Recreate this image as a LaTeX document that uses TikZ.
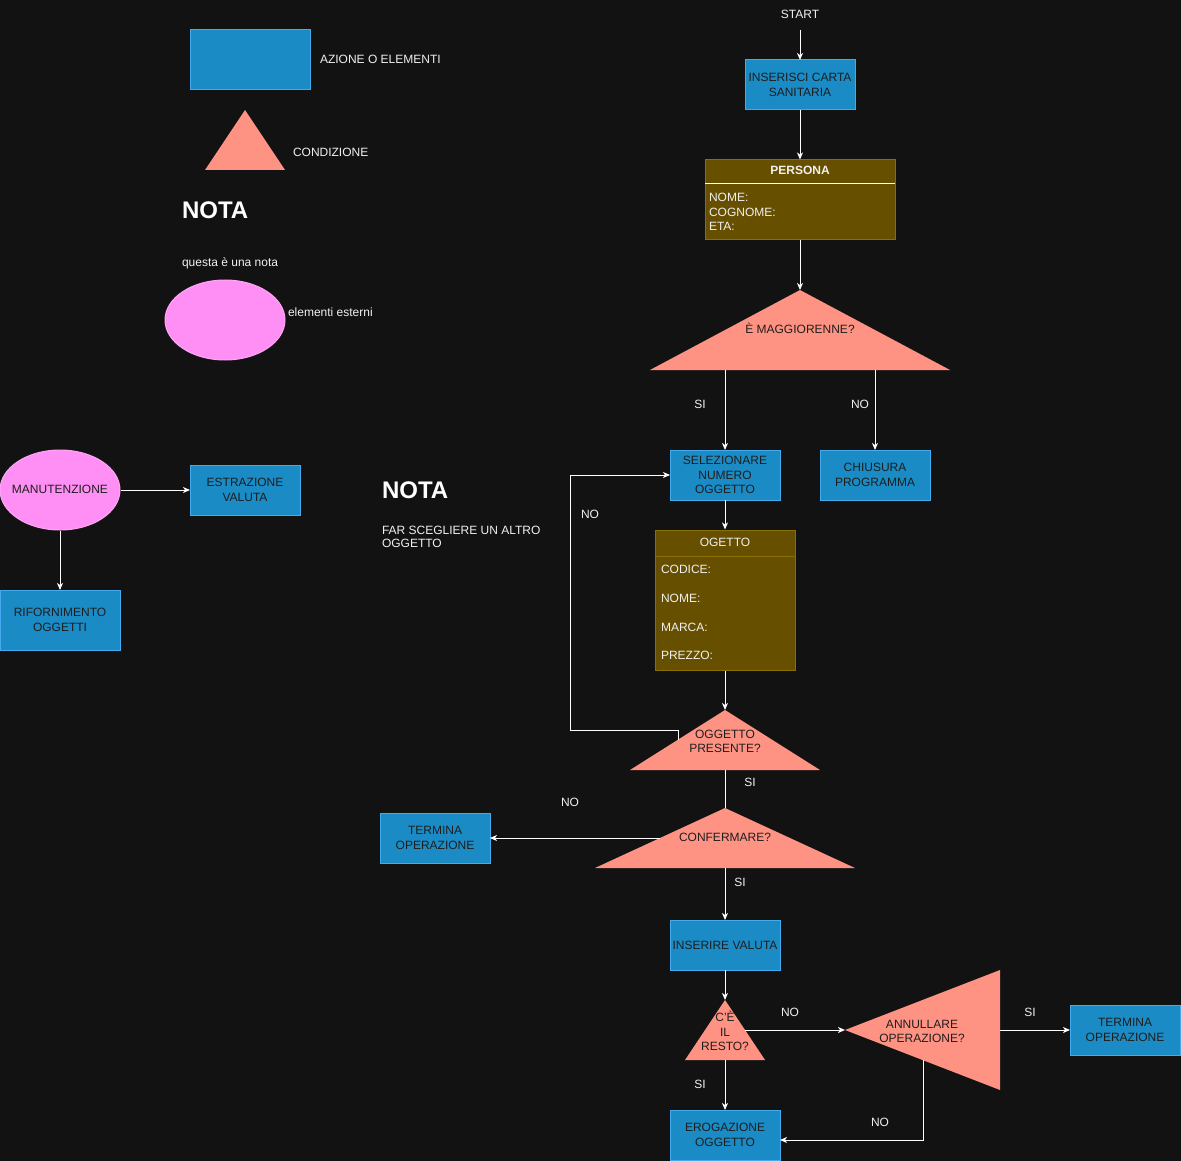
\documentclass[tikz,border=0pt]{standalone}
\usepackage{fontspec}
\setmainfont{Liberation Sans}
\usetikzlibrary{arrows.meta,shapes.geometric}

\definecolor{bgdark}{HTML}{121212}
\definecolor{actfill}{HTML}{1A8BC5}
\definecolor{actedge}{HTML}{45AAEE}
\definecolor{condfill}{HTML}{FF9383}
\definecolor{recfill}{HTML}{665000}
\definecolor{recedge}{HTML}{8A7000}
\definecolor{extfill}{HTML}{FF8FF5}
\definecolor{darktxt}{HTML}{1E1E1E}
\definecolor{lighttxt}{HTML}{F0F0F0}

\tikzset{
  txt/.style={font=\fontsize{12}{14.5}\selectfont, inner sep=0pt, outer sep=0pt},
  act/.style={txt, rectangle, draw=actedge, fill=actfill, text=darktxt, line width=1pt,
    minimum width=110pt, minimum height=50pt, align=center},
  extnode/.style={ellipse, draw=extfill!80!white, fill=extfill, line width=1pt, inner sep=0pt,
    minimum width=120pt, minimum height=80pt},
  recbox/.style={rectangle, draw=recedge, fill=recfill, line width=1pt, inner sep=0pt},
  condshape/.style={fill=condfill},
  condtxt/.style={txt, text=darktxt, align=center, yshift=-1.2pt},
  wlbl/.style={txt, text=lighttxt, yshift=-1.2pt},
  reclbl/.style={txt, text=lighttxt, anchor=mid west, yshift=-1.2pt},
  bignote/.style={txt, text=white, font=\fontsize{24}{28}\selectfont\bfseries, anchor=mid west, yshift=-4.5pt},
  arr/.style={draw=white, line width=1pt, -{Stealth[length=7pt,width=6pt,inset=2pt]}},
  plainline/.style={draw=white, line width=1pt}
}

\begin{document}
\begin{tikzpicture}[x=1pt,y=-1pt]
  % canvas
  \fill[bgdark] (0,0) rectangle (1181,1161);
  \useasboundingbox (0,0) rectangle (1181,1161);

  % ---------- legend ----------
  \node[act, minimum width=120pt, minimum height=60pt] (legact) at (250,60) {};
  \node[wlbl, anchor=mid west] (legacttxt) at (320,60) {AZIONE O ELEMENTI};
  \coordinate (legtop) at (245,110);
  \coordinate (legleft) at (205,170);
  \coordinate (legright) at (285,170);
  \fill[condshape] (legtop) -- (legright) -- (legleft) -- cycle;
  \node[wlbl, anchor=mid west] (legcond) at (293,153) {CONDIZIONE};
  \node[bignote] (legnota) at (182,211) {NOTA};
  \node[wlbl, anchor=mid west] (legnotatxt) at (182,263) {questa è una nota};
  \node[extnode] (legext) at (225,320) {};
  \node[wlbl, anchor=mid west] (legexttxt) at (288,313) {elementi esterni};

  % ---------- maintenance ----------
  \node[extnode] (manut) at (60,490) {};
  \node[txt, text=darktxt, anchor=mid, yshift=-1.2pt] (manuttxt) at (manut.center) {MANUTENZIONE};
  \node[act] (estraz) at (245,490) {ESTRAZIONE\\VALUTA};
  \node[act, minimum width=120pt, minimum height=60pt] (rifor) at (60,620) {RIFORNIMENTO\\OGGETTI};
  \draw[arr] (manut.east) -- (estraz.west);
  \draw[arr] (manut.south) -- (rifor.north);

  \node[bignote] (nota2) at (382,491) {NOTA};
  \node[wlbl, anchor=north west, align=left, font=\fontsize{12}{13.7}\selectfont] (nota2txt) at (382,524.5) {FAR SCEGLIERE UN ALTRO\\OGGETTO};

  % ---------- main flow ----------
  \node[wlbl, anchor=mid] (start) at (800,15) {START};
  \coordinate (startend) at (800,30);
  \node[act] (carta) at (800,85) {INSERISCI CARTA\\SANITARIA};
  \draw[arr] (startend) -- (carta.north);

  % person record
  \node[recbox, minimum width=190pt, minimum height=80pt] (persona) at (800,200) {};
  \draw[white, line width=1pt] (705,184) -- (895,184);
  \node[txt, text=lighttxt, font=\fontsize{12}{14.5}\selectfont\bfseries, anchor=mid, yshift=-1.2pt] (personahead) at (800,171) {PERSONA};
  \node[reclbl] (pnome) at (709,198) {NOME:};
  \node[reclbl] (pcognome) at (709,212.5) {COGNOME:};
  \node[reclbl] (peta) at (709,227) {ETA:};
  \draw[arr] (carta.south) -- (persona.north);

  % adult check
  \coordinate (maggtop) at (800,290);
  \coordinate (maggleft) at (650,370);
  \coordinate (maggright) at (950,370);
  \fill[condshape] (maggtop) -- (maggright) -- (maggleft) -- cycle;
  \node[condtxt, anchor=mid] (maggtxt) at (800,330) {È MAGGIORENNE?};
  \draw[arr] (persona.south) -- (maggtop);
  \coordinate (maggsi) at (725,370);
  \coordinate (maggno) at (875,370);

  \node[act] (selez) at (725,475) {SELEZIONARE\\NUMERO\\OGGETTO};
  \node[act] (chiusura) at (875,475) {CHIUSURA\\PROGRAMMA};
  \draw[arr] (maggsi) -- (selez.north);
  \draw[arr] (maggno) -- (chiusura.north);
  \node[wlbl, anchor=mid] (lsi1) at (700,405) {SI};
  \node[wlbl, anchor=mid] (lno1) at (860,405) {NO};

  % object record
  \node[recbox, minimum width=140pt, minimum height=140pt] (ogetto) at (725,600) {};
  \draw[recedge, line width=1pt] (655,556.5) -- (795,556.5);
  \node[txt, text=lighttxt, anchor=mid, yshift=-1.2pt] (ogettohead) at (725,543) {OGETTO};
  \node[reclbl] (ocodice) at (661,570) {CODICE:};
  \node[reclbl] (onome) at (661,599) {NOME:};
  \node[reclbl] (omarca) at (661,628) {MARCA:};
  \node[reclbl] (oprezzo) at (661,656) {PREZZO:};
  \draw[arr] (selez.south) -- (ogetto.north);

  % object available?
  \coordinate (prestop) at (725,710);
  \coordinate (presleft) at (630,770);
  \coordinate (presright) at (820,770);
  \fill[condshape] (prestop) -- (presright) -- (presleft) -- cycle;
  \node[condtxt, anchor=center] (prestxt) at (725,740) {OGGETTO\\PRESENTE?};
  \draw[arr] (ogetto.south) -- (prestop);
  \coordinate (presno) at (678,740);
  \draw[arr] (presno) -- (678,730) -- (570.5,730) |- (selez.west);
  \node[wlbl, anchor=mid] (lno2) at (590,515) {NO};
  \coordinate (pressi) at (725,770);

  % confirm?
  \coordinate (conftop) at (725,808);
  \coordinate (confleft) at (595,868);
  \coordinate (confright) at (855,868);
  \fill[condshape] (conftop) -- (confright) -- (confleft) -- cycle;
  \node[condtxt, anchor=mid] (conftxt) at (725,838) {CONFERMARE?};
  \draw[plainline] (pressi) -- (conftop);
  \node[wlbl, anchor=mid] (lsi2) at (750,783) {SI};

  \coordinate (confno) at (660,838);
  \node[act] (termina1) at (435,838) {TERMINA\\OPERAZIONE};
  \draw[arr] (confno) -- (termina1.east);
  \node[wlbl, anchor=mid] (lno3) at (570,803) {NO};

  \coordinate (confsi) at (725,868);
  \node[act] (valuta) at (725,945) {INSERIRE VALUTA};
  \draw[arr] (confsi) -- (valuta.north);
  \node[wlbl, anchor=mid] (lsi3) at (740,883) {SI};

  % change available?
  \coordinate (restotop) at (725,1000);
  \coordinate (restoleft) at (685,1060);
  \coordinate (restoright) at (765,1060);
  \fill[condshape] (restotop) -- (restoright) -- (restoleft) -- cycle;
  \node[condtxt, anchor=center] (restotxt) at (725,1030) {C\char"0027È\\IL\\RESTO?};
  \draw[arr] (valuta.south) -- (restotop);

  % cancel?
  \coordinate (annultip) at (845,1030);
  \coordinate (annulup) at (1000,970);
  \coordinate (annuldown) at (1000,1090);
  \fill[condshape] (annultip) -- (annulup) -- (annuldown) -- cycle;
  \node[condtxt, anchor=center] (annultxt) at (922,1030) {ANNULLARE\\OPERAZIONE?};
  \coordinate (restono) at (745,1030);
  \draw[arr] (restono) -- (annultip);
  \node[wlbl, anchor=mid] (lno4) at (790,1013) {NO};

  \coordinate (annulsi) at (1000,1030);
  \node[act] (termina2) at (1125,1030) {TERMINA\\OPERAZIONE};
  \draw[arr] (annulsi) -- (termina2.west);
  \node[wlbl, anchor=mid] (lsi4) at (1030,1013) {SI};

  \coordinate (restosi) at (725,1060);
  \node[act] (erog) at (725,1135) {EROGAZIONE\\OGGETTO};
  \draw[arr] (restosi) -- (erog.north);
  \node[wlbl, anchor=mid] (lsi5) at (700,1085) {SI};

  \coordinate (annulno) at (923,1060);
  \draw[arr] (annulno) |- ([yshift=-5pt]erog.east);
  \node[wlbl, anchor=mid] (lno5) at (880,1123) {NO};
\end{tikzpicture}
\end{document}
